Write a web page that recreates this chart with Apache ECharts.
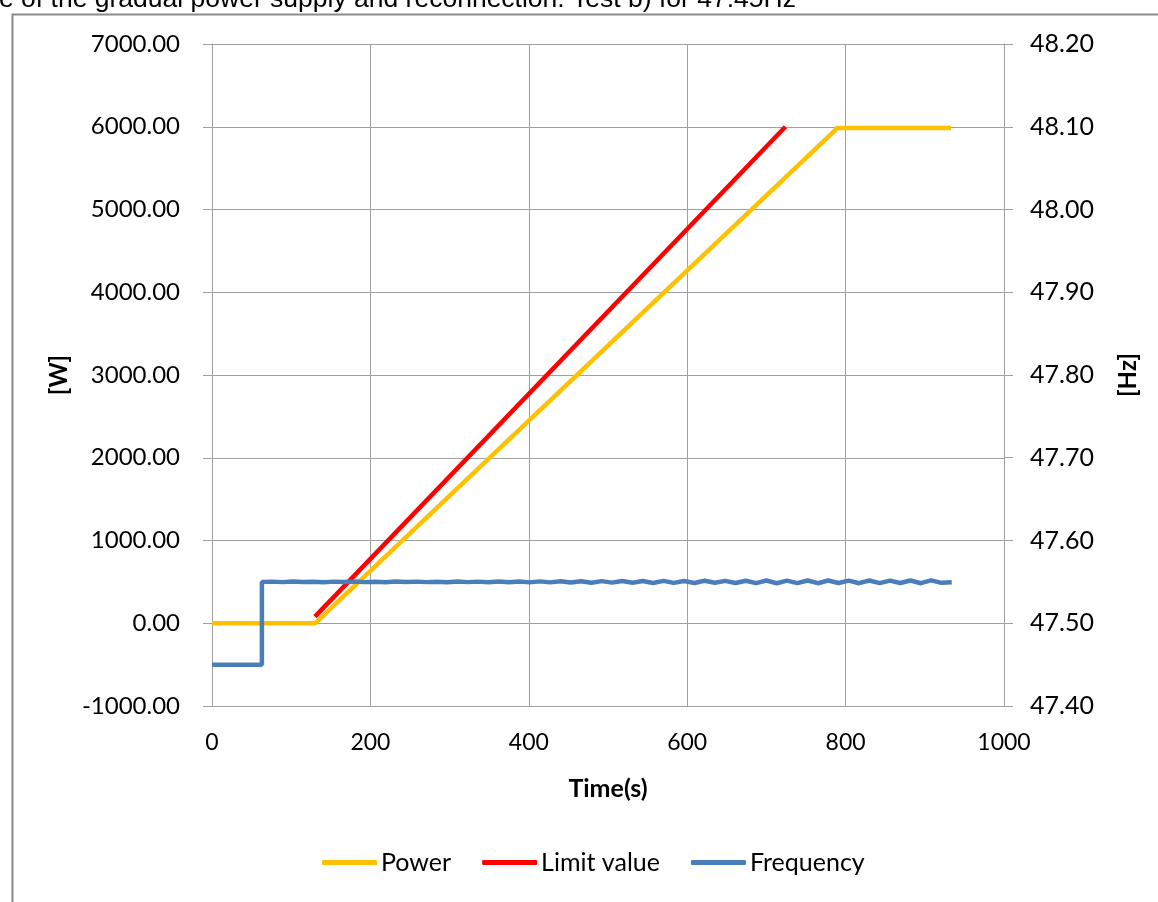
<!DOCTYPE html>
<html>
<head>
<meta charset="utf-8">
<script src="https://cdn.jsdelivr.net/npm/echarts@6/dist/echarts.min.js"></script>
<style>
  html, body { margin: 0; padding: 0; background: #fff; }
  #chart { width: 1158px; height: 902px; }
</style>
</head>
<body>
<div id="chart"></div>
<script>
// time (s) / power (W) breakpoints
const powerPoints = [[0, 0], [130, 0], [134, 35], [785, 5940], [789, 5985], [933, 5985]];
const limitPoints = [[130, 80], [724, 6000]];

// frequency: initial level, step time, then samples every 13 s
const freqLow = 47.45;
const freqStepTime = 63;
const freqSampleStep = 13;
const freqValues = [
  47.5500, 47.5503, 47.5497, 47.5504, 47.5498, 47.5502, 47.5496, 47.5503, 47.5498, 47.5504,
  47.5497, 47.5502, 47.5496, 47.5504, 47.5498, 47.5503, 47.5497, 47.5502, 47.5496, 47.5504,
  47.5497, 47.5503, 47.5495, 47.5504, 47.5496, 47.5505, 47.5494, 47.5506, 47.5494, 47.5507,
  47.5492, 47.5508, 47.5490, 47.5509, 47.5491, 47.5511, 47.5489, 47.5510, 47.5487, 47.5512,
  47.5488, 47.5510, 47.5486, 47.5513, 47.5489, 47.5512, 47.5486, 47.5514, 47.5485, 47.5516,
  47.5484, 47.5515, 47.5485, 47.5517, 47.5484, 47.5516, 47.5486, 47.5515, 47.5484, 47.5517,
  47.5485, 47.5515, 47.5486, 47.5516, 47.5484, 47.5518, 47.5488, 47.5496
];

const seriesNames = ['Power', 'Limit value', 'Frequency'];
const seriesColors = ['#ffc000', '#ff0000', '#4a7ebb'];

const titleText = 'e of the gradual power supply and reconnection. Test b) for 47.45Hz';

const frequencyPoints = [[0, freqLow], [freqStepTime, freqLow]];
freqValues.forEach((v, i) => frequencyPoints.push([freqStepTime + i * freqSampleStep, v]));

const gridColor = '#a0a0a0';
const font = 'Lato, "Open Sans", sans-serif';

const chart = echarts.init(document.getElementById('chart'));

chart.setOption({
  animation: false,
  backgroundColor: '#fff',
  textStyle: { fontFamily: font },
  graphic: [
    {
      type: 'rect',
      left: 10, top: 12,
      shape: { width: 1300, height: 1000 },
      style: { fill: 'none', stroke: '#8a8a8a', lineWidth: 2 }
    },
    {
      type: 'text',
      left: -1, top: -14,
      style: { text: titleText, font: '26.5px "Liberation Sans", Arial, sans-serif', fill: '#000' }
    }
  ],
  grid: { left: 212, right: 154, top: 44, bottom: 196 },
  legend: {
    bottom: 22,
    left: 317,
    data: seriesNames,
    icon: 'roundRect',
    itemWidth: 55,
    itemHeight: 5,
    itemGap: 31,
    textStyle: { fontSize: 25, color: '#000', fontFamily: font, padding: [0, 0, 0, -1] }
  },
  xAxis: {
    type: 'value',
    min: 0, max: 1000, interval: 200,
    name: 'Time(s)',
    nameLocation: 'middle',
    nameGap: 70,
    nameTextStyle: { fontSize: 25, fontWeight: 'bold', color: '#000', fontFamily: font },
    axisLine: { show: true, lineStyle: { color: gridColor, width: 1 } },
    axisTick: { show: false },
    axisLabel: { fontSize: 23, color: '#000', margin: 25, fontFamily: font, formatter: v => String(v) },
    splitLine: { show: true, lineStyle: { color: gridColor, width: 1 } }
  },
  yAxis: [
    {
      type: 'value',
      min: -1000, max: 7000, interval: 1000,
      position: 'left',
      name: '[W]',
      nameLocation: 'middle',
      nameRotate: 90,
      nameGap: 139,
      nameTextStyle: { fontSize: 24, fontWeight: 'bold', color: '#000', fontFamily: font },
      axisLine: { show: true, lineStyle: { color: gridColor, width: 1 } },
      axisTick: { show: true, inside: false, length: 9, lineStyle: { color: gridColor } },
      axisLabel: {
        fontSize: 24, color: '#000', margin: 32, fontFamily: font,
        formatter: v => v.toFixed(2)
      },
      splitLine: { show: true, lineStyle: { color: gridColor, width: 1 } }
    },
    {
      type: 'value',
      min: 47.4, max: 48.2, interval: 0.1,
      position: 'right',
      name: '[Hz]',
      nameLocation: 'middle',
      nameRotate: 90,
      nameGap: 112,
      nameTextStyle: { fontSize: 24, fontWeight: 'bold', color: '#000', fontFamily: font },
      axisLine: { show: true, lineStyle: { color: gridColor, width: 1 } },
      axisTick: { show: true, inside: false, length: 9, lineStyle: { color: gridColor } },
      axisLabel: {
        fontSize: 25, color: '#000', margin: 26, fontFamily: font,
        formatter: v => v.toFixed(2)
      },
      splitLine: { show: false }
    }
  ],
  series: [
    {
      name: seriesNames[0],
      type: 'line',
      data: powerPoints,
      yAxisIndex: 0,
      symbol: 'none',
      lineStyle: { color: seriesColors[0], width: 4.5 },
      itemStyle: { color: seriesColors[0] }
    },
    {
      name: seriesNames[1],
      type: 'line',
      data: limitPoints,
      yAxisIndex: 0,
      symbol: 'none',
      lineStyle: { color: seriesColors[1], width: 4.5 },
      itemStyle: { color: seriesColors[1] }
    },
    {
      name: seriesNames[2],
      type: 'line',
      data: frequencyPoints,
      yAxisIndex: 1,
      symbol: 'none',
      lineStyle: { color: seriesColors[2], width: 4.5 },
      itemStyle: { color: seriesColors[2] }
    }
  ]
});
</script>
</body>
</html>
